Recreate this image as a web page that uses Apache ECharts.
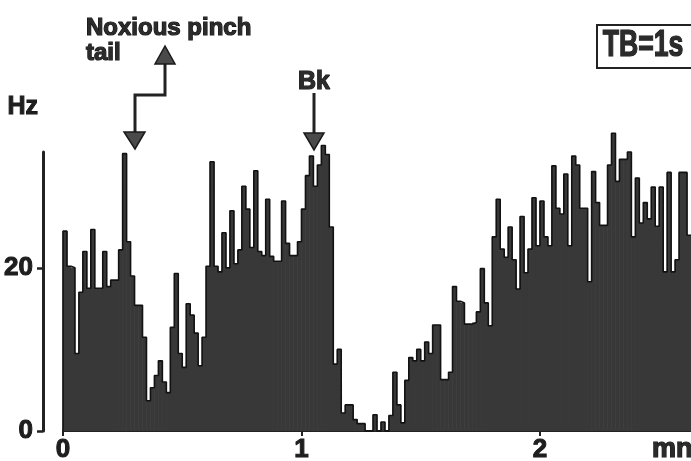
<!DOCTYPE html>
<html><head><meta charset="utf-8">
<script src="https://cdn.jsdelivr.net/npm/echarts@6/dist/echarts.min.js"></script>
<style>html,body{margin:0;padding:0;background:#fff}#c{width:691px;height:461px}</style>
</head><body><div id="c"></div>
<script>
// firing rate per 1-s bin (Hz), from t = 0 s
const rateHz = [
  24.5,20.2,20,9.5,17,22,17.5,24.7,17.5,17.5,
  22,17.7,18.5,18.5,22.2,34,23.2,19,15.4,15.4,
  11.5,3.7,5.3,6.8,8.6,6,4.7,12.7,19.3,9.5,
  7.8,15.6,14.2,12,8,11.5,20.2,33,20.2,19.5,
  24.3,20,27,20.5,22.2,30,27.2,22.5,31.9,22,
  21.5,28.4,21.4,20.8,20.8,28.2,23,21.5,21.5,23.2,
  27.2,31.3,33.7,30,32.6,35,33.9,25,8.2,10,
  2.2,3.2,3.2,1.4,0.9,0.9,0,0,2,0,
  1.1,0,1.9,7.2,3.2,1,6.2,9,8.6,10,
  8.6,10.9,9.5,13,13,6.3,6.3,7.2,17.7,15.9,
  15.7,13.1,13.1,13.3,14.6,19.9,15.7,12.9,23.8,28.4,
  22.3,21.3,25,21,17.4,26.3,19.4,22.3,28.6,22.7,
  28.2,23.8,22.7,32.5,27.3,26.6,31.5,22.7,33.7,32.6,
  27.3,27.3,18.3,31.8,28,25.2,25.2,32.6,36.5,30.6,
  33.3,33.3,34.2,23.8,31,25.5,28,26,29.9,25.1,
  29.9,19.5,31.7,19.5,21,31.7,31.7,24
];
const xTickSeconds = [0, 60, 120];
const xTickLabels = ['0', '1', '2'];
const yTickValues = [0, 20];
const yTickLabels = ['0', '20'];

const barData = rateHz.map((v, i) => [i + 0.5, v]);
const outline = [[0, 0]];
rateHz.forEach((v, i) => { outline.push([i, v]); outline.push([i + 1, v]); });

const FONT = "'Liberation Sans',Arial,sans-serif";
const ink = '#1e1e1e';
const txt = {fontFamily: FONT, fontWeight: 'bold', fill: '#2b2b2b', stroke: '#111', lineWidth: 1.2};

const chart = echarts.init(document.getElementById('c'), null, {renderer: 'canvas'});
chart.setOption({
  backgroundColor: '#ffffff',
  animation: false,
  grid: {left: 63, right: 0, top: 152, bottom: 30, containLabel: false, outerBoundsMode: 'none'},
  xAxis: {
    type: 'value', min: 0, max: rateHz.length, interval: 60,
    axisLine: {show: true, onZero: false, lineStyle: {color: '#222', width: 2}},
    axisTick: {show: true, length: 5, lineStyle: {color: '#222', width: 2}, customValues: xTickSeconds},
    axisLabel: {
      customValues: xTickSeconds, margin: 6,
      formatter: v => xTickLabels[xTickSeconds.indexOf(v)] ?? '',
      fontFamily: FONT, fontWeight: 'bold', fontSize: 26, color: ink,
      textBorderColor: '#111', textBorderWidth: 1
    },
    splitLine: {show: false}
  },
  yAxis: {
    type: 'value', min: 0, max: 34.2, interval: 20, offset: 20,
    name: 'Hz', nameLocation: 'end', nameGap: 45,
    nameTextStyle: {fontFamily: FONT, fontWeight: 'bold', fontSize: 25, color: ink, textBorderColor: '#111', textBorderWidth: 1,
      align: 'right', verticalAlign: 'middle', padding: [0, 5, 0, 0]},
    axisLine: {show: true, onZero: false, lineStyle: {color: '#222', width: 3}},
    axisTick: {show: true, length: 6, lineStyle: {color: '#222', width: 2.5}, customValues: yTickValues},
    axisLabel: {
      customValues: yTickValues, margin: 10,
      formatter: v => yTickLabels[yTickValues.indexOf(v)] ?? '',
      fontFamily: FONT, fontWeight: 'bold', fontSize: 26, color: ink,
      textBorderColor: '#111', textBorderWidth: 1
    },
    splitLine: {show: false}
  },
  series: [
    {type: 'bar', data: barData, barWidth: 4.6, clip: false, silent: true,
     itemStyle: {color: '#383838'}},
    {type: 'line', data: outline, clip: false, symbol: 'none', silent: true,
     lineStyle: {color: '#121212', width: 1.6}}
  ],
  graphic: [
    {type: 'text', style: Object.assign({text: 'Noxious pinch', x: 86, y: 28, textVerticalAlign: 'middle', fontSize: 24}, txt)},
    {type: 'text', style: Object.assign({text: 'tail', x: 86, y: 53, textVerticalAlign: 'middle', fontSize: 24}, txt)},
    {type: 'text', style: Object.assign({text: 'Bk', x: 314, y: 82, textAlign: 'center', textVerticalAlign: 'middle', fontSize: 25}, txt)},
    {type: 'text', style: Object.assign({text: 'mn', x: 652, y: 450, textVerticalAlign: 'middle', fontSize: 27}, txt)},
    {type: 'rect', shape: {x: 597, y: 25, width: 110, height: 43}, style: {fill: 'none', stroke: '#222', lineWidth: 2}},
    {type: 'text', x: 643, y: 46, scaleX: 0.74, style: Object.assign({text: 'TB=1s', x: 0, y: 0, textAlign: 'center', textVerticalAlign: 'middle', fontSize: 36}, txt)},
    // arrow to "Noxious pinch" (up) and down to histogram
    {type: 'polyline', shape: {points: [[165, 62], [165, 95], [135, 95], [135, 133]]}, style: {stroke: '#222', lineWidth: 3, fill: null}},
    {type: 'polygon', shape: {points: [[165, 46], [155, 64], [175, 64]]}, style: {fill: '#4a4a4a', stroke: '#1a1a1a', lineWidth: 1.5}},
    {type: 'polygon', shape: {points: [[124, 132], [145, 132], [135, 149]]}, style: {fill: '#4a4a4a', stroke: '#1a1a1a', lineWidth: 1.5}},
    // Bk arrow
    {type: 'line', shape: {x1: 314, y1: 93, x2: 314, y2: 134}, style: {stroke: '#222', lineWidth: 3}},
    {type: 'polygon', shape: {points: [[304, 133], [324, 133], [314, 150]]}, style: {fill: '#4a4a4a', stroke: '#1a1a1a', lineWidth: 1.5}}
  ]
});
</script>
</body></html>
